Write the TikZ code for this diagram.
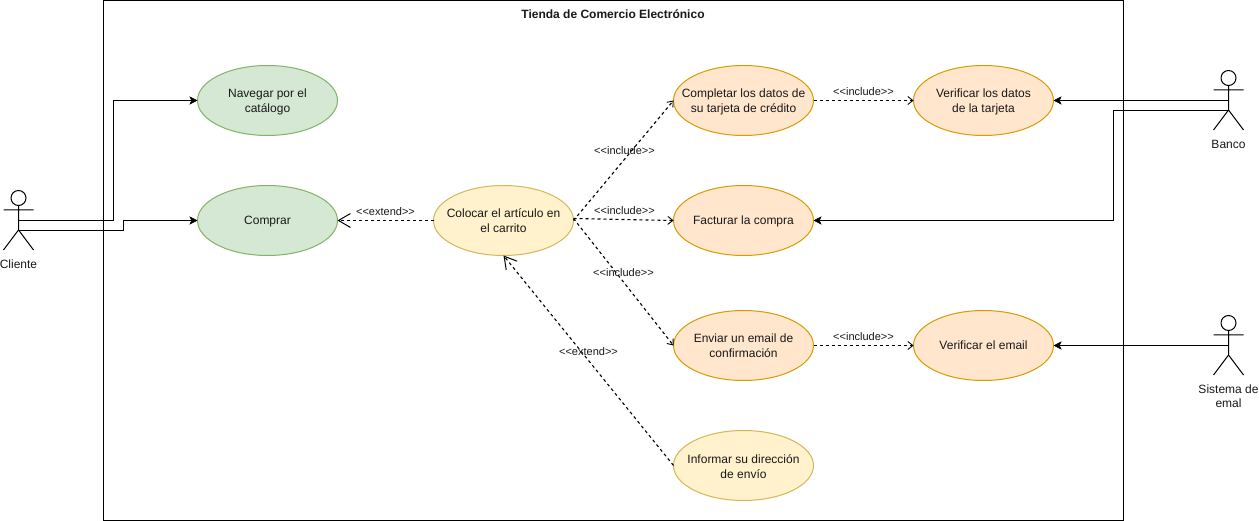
\documentclass[tikz,border=0pt]{standalone}
\usepackage{fontspec}
\setmainfont{Liberation Sans}[Ligatures=NoCommon]
\usetikzlibrary{arrows.meta,shapes.geometric}
\definecolor{green1}{HTML}{D5E8D4}\definecolor{green2}{HTML}{82B366}
\definecolor{orange1}{HTML}{FFE6CC}\definecolor{orange2}{HTML}{D79B00}
\definecolor{yellow1}{HTML}{FFF2CC}\definecolor{yellow2}{HTML}{D6B656}
\tikzset{
  x=1pt,y=-1pt,
  line width=1pt,
  usecase/.style={ellipse,draw,minimum width=140pt,minimum height=70pt,inner sep=0pt,outer sep=0pt,line width=1pt,font=\fontsize{12}{15}\selectfont,text=black!90},
  greencase/.style={usecase,fill=green1,draw=green2},
  orangecase/.style={usecase,fill=orange1,draw=orange2},
  yellowcase/.style={usecase,fill=yellow1,draw=yellow2},
  solidarrow/.style={draw=black,-{Stealth[length=8pt,width=8pt,inset=2pt]}},
  incarrow/.style={draw=black,dash pattern=on 3pt off 3pt,-{Straight Barb[length=5pt,width=8pt,line width=.9pt]}},
  slantarrow/.style={incarrow,line width=1.1pt},
  extarrow/.style={draw=black,dash pattern=on 3pt off 3pt,-{Straight Barb[length=12pt,width=14pt,line width=1pt]}},
  linklabel/.style={inner sep=0pt,font=\fontsize{11}{13}\selectfont,text=black!90},
  actorlabel/.style={inner sep=0pt,align=center,font=\fontsize{12}{14}\selectfont,text=black!90},
  actorline/.style={draw=black,line width=1pt},
}
\newcommand{\casetext}[1]{\raisebox{-5pt}[0pt][0pt]{\makebox[0pt][c]{\begin{tabular}{@{}c@{}}#1\end{tabular}}}}
\newcommand{\casesingle}[1]{\raisebox{-4.5pt}[0pt][0pt]{\makebox[0pt][c]{#1}}}
\newcommand{\guil}[1]{<{}<#1>{}>}
\newcommand{\actorfig}[2]{%
  \draw[actorline] (#1,#2) circle (7.5);
  \draw[actorline] (#1,#2+7.5) -- (#1,#2+32) (#1-15,#2+12) -- (#1+15,#2+12)
    (#1-15,#2+52) -- (#1,#2+32) -- (#1+15,#2+52);
}
\begin{document}
\begin{tikzpicture}
\useasboundingbox (0,0) rectangle (1259,521);
\fill[white] (0,0) rectangle (1259,521);
\node[draw=black,line width=1pt,minimum width=1020pt,minimum height=520pt,inner sep=0pt,outer sep=0pt,anchor=north west] (system) at (103.5,0.5) {};
\node[inner sep=0pt,font=\fontsize{12}{14}\selectfont\bfseries,text=black!90] (title) at (613,14) {Tienda de Comercio Electrónico};

% use cases
\node[greencase] (nav) at (267.5,100.5) {\casetext{Navegar por el\\catálogo}};
\node[greencase] (comprar) at (267.5,220.5) {\casesingle{Comprar}};
\node[yellowcase] (colocar) at (503.5,220.5) {\casetext{Colocar el artículo en\\el carrito}};
\node[orangecase] (completar) at (743.5,100.5) {\casetext{Completar los datos de\\su tarjeta de crédito}};
\node[orangecase] (facturar) at (743.5,220.5) {\casesingle{Facturar la compra}};
\node[orangecase] (enviar) at (743.5,345.5) {\casetext{Enviar un email de\\confirmación}};
\node[yellowcase] (informar) at (743.5,465.5) {\casetext{Informar su dirección\\de envío}};
\node[orangecase] (vdatos) at (983.5,100.5) {\casetext{Verificar los datos\\de la tarjeta}};
\node[orangecase] (vemail) at (983.5,345.5) {\casesingle{Verificar el email}};

% actors
\actorfig{18.5}{198}
\actorfig{1228.5}{78}
\actorfig{1228.5}{323}
\node[actorlabel] (cliente) at (18.5,264) {Cliente};
\node[actorlabel] (banco) at (1228.5,144) {Banco};
\node[actorlabel] (sistema) at (1228.5,396) {Sistema de\\emal};
\coordinate (clienteA) at (18.5,220.5);
\coordinate (clienteB) at (18.5,230.5);
\coordinate (bancoA) at (1228.5,100.5);
\coordinate (bancoB) at (1228.5,110.5);
\coordinate (sistemaA) at (1228.5,345.5);

% solid connectors
\draw[solidarrow] (clienteA) -- (113.5,220.5) -- (113.5,100.5) -- (nav.west);
\draw[solidarrow] (clienteB) -- (123.5,230.5) -- (123.5,220.5) -- (comprar.west);
\draw[solidarrow] (bancoA) -- (vdatos.east);
\draw[solidarrow] (bancoB) -- (1113.5,110.5) -- (1113.5,220.5) -- (facturar.east);
\draw[solidarrow] (sistemaA) -- (vemail.east);

% dashed connectors
\draw[extarrow] (colocar.west) -- (comprar.east);
\draw[slantarrow] (colocar.east) -- (completar.west);
\draw[slantarrow] (colocar.east) ++(0,-2) -- (facturar.west);
\draw[slantarrow] (colocar.east) ++(0,-2) -- (enviar.west);
\draw[incarrow] (completar.east) -- (vdatos.west);
\draw[incarrow] (enviar.east) -- (vemail.west);
\draw[extarrow,line width=1.1pt] (informar.west) -- (503.5,255.5);

% labels
\node[linklabel] (l1) at (385.5,212) {\guil{extend}};
\node[linklabel] (l2) at (624.5,151) {\guil{include}};
\node[linklabel] (l3) at (624.5,211) {\guil{include}};
\node[linklabel] (l4) at (623.5,273) {\guil{include}};
\node[linklabel] (l5) at (863.5,92) {\guil{include}};
\node[linklabel] (l6) at (863.5,337) {\guil{include}};
\node[linklabel] (l7) at (588.5,352) {\guil{extend}};
\end{tikzpicture}
\end{document}
